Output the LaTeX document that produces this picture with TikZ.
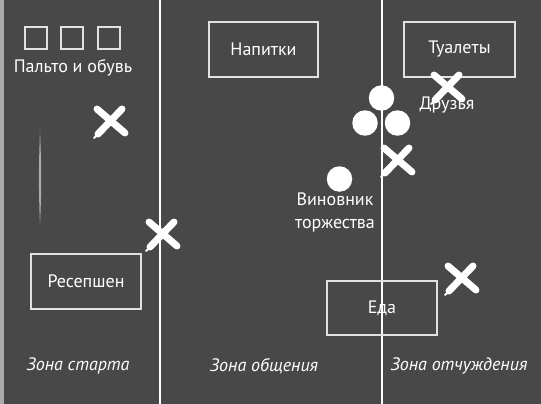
\documentclass[tikz,border=0pt]{standalone}
\usepackage{fontspec}
\setmainfont{PT Sans}
\definecolor{boardgray}{RGB}{72,72,72}
\definecolor{edgegray}{RGB}{170,170,170}
\definecolor{linegray}{RGB}{225,225,225}
\begin{document}
\begin{tikzpicture}[x=1pt,y=-1pt,
  board/.style={fill=boardgray},
  zoneline/.style={draw=white, line width=1.3pt},
  place/.style={draw=linegray, line width=1.4pt, text=white,
    inner sep=0pt, font=\fontsize{18}{21}\selectfont},
  hook/.style={draw=linegray, line width=1.4pt,
    minimum size=22pt, inner sep=0pt},
  guest/.style={circle, fill=white, minimum size=25.5pt, inner sep=0pt},
  label/.style={text=white, font=\fontsize{18}{23}\selectfont, inner sep=0pt, align=center},
  zone/.style={text=white, font=\fontsize{18}{21}\selectfont\itshape, inner sep=0pt},
  xstroke/.style={draw=white, line width=7pt, line cap=round},
  chalkx/.pic={
    \draw[xstroke] (-13,-13) -- (15,11);
    \draw[xstroke] (12,-13) -- (-12,12);
    \draw[white, line width=2pt, line cap=round] (-8,9) -- (-16,16);
  }]
% board
\useasboundingbox (0,0) rectangle (541,404);
\path[board] (0,0) rectangle (541,404);
\fill[edgegray] (0,0) rectangle (3.5,404);
\fill[white, opacity=0.55] (40,130) .. controls (41.6,170) and (41.6,190) .. (40,225)
   .. controls (38.6,190) and (38.6,170) .. (40,130);
% zone lines
\coordinate (l1t) at (160,0); \coordinate (l1b) at (160,404);
\coordinate (l2t) at (382,0); \coordinate (l2b) at (382,404);
\draw[zoneline] (l1t) -- (l1b);
\draw[zoneline] (l2t) -- (l2b);
% coat hooks
\node[hook] (h1) at (36,38) {};
\node[hook] (h2) at (72,38) {};
\node[hook] (h3) at (109,38) {};
\node[label] (coat) at (73,68) {Пальто и обувь};
% places
\node[place, minimum width=109pt, minimum height=55pt] (drinks) at (263.5,49.5) {Напитки};
\node[place, minimum width=111pt, minimum height=55pt] (wc) at (459.5,49.5) {Туалеты};
\node[place, minimum width=110pt, minimum height=55pt] (recep) at (86,281.5) {Ресепшен};
\node[place, minimum width=110pt, minimum height=54pt] (food) at (382,308) {Еда};
% guests
\node[guest] (f1) at (381.5,98) {};
\node[guest] (f2) at (365,123) {};
\node[guest] (f3) at (397.5,123) {};
\node[guest] (hero) at (339.5,179) {};
\node[label] (friends) at (447,105) {Друзья};
\node[label, anchor=north] (herolab) at (335,193) {Виновник\\торжества};
% crosses
\pic at (110,122) {chalkx};
\pic at (162,235) {chalkx};
\pic at (447,88) {chalkx};
\pic at (397,161) {chalkx};
\pic at (461,279) {chalkx};
% zone labels
\node[zone] (z1) at (78,366) {Зона старта};
\node[zone] (z2) at (264,366) {Зона общения};
\node[zone] (z3) at (459,366) {Зона отчуждения};
\end{tikzpicture}
\end{document}
